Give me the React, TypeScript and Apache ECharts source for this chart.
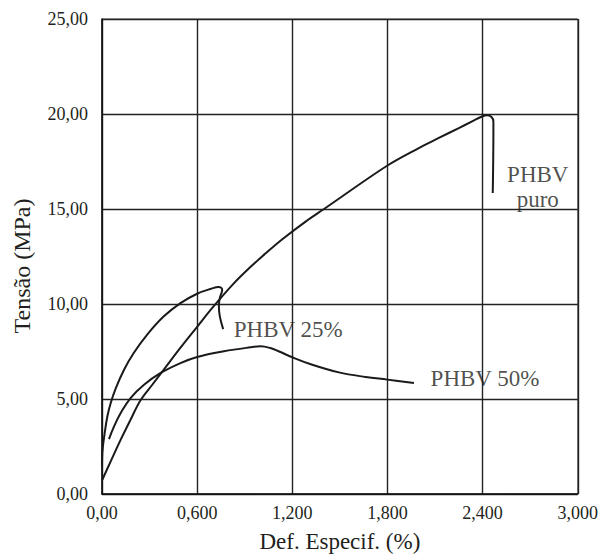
import React, { useEffect, useRef } from "react";
import * as echarts from "echarts";

const xTickLabels = ["0,00", "0,600", "1,200", "1,800", "2,400", "3,000"];
const yTickLabels = ["0,00", "5,00", "10,00", "15,00", "20,00", "25,00"];

const xTitle = "Def. Especif. (%)";
const yTitle = "Tensão (MPa)";

const phbvPuro: [number, number][] = [
  [0.002, 0.75], [0.055, 1.72], [0.118, 2.86], [0.18, 3.91], [0.243, 4.93],
  [0.317, 5.75], [0.39, 6.55], [0.495, 7.7], [0.6, 8.8], [0.698, 9.82],
  [0.824, 11.02], [0.929, 11.89], [1.034, 12.68], [1.139, 13.42], [1.286, 14.35],
  [1.4, 15.0], [1.8, 17.29], [1.998, 18.21],
  [2.124, 18.74], [2.25, 19.26], [2.334, 19.61], [2.397, 19.87], [2.428, 19.93],
  [2.456, 19.84], [2.468, 19.61], [2.468, 19.0], [2.464, 15.84],
];

const phbv25: [number, number][] = [
  [0.0, 1.46], [0.002, 2.16], [0.017, 3.21], [0.034, 4.09], [0.055, 4.79],
  [0.086, 5.55], [0.139, 6.54], [0.2, 7.42], [0.285, 8.39], [0.39, 9.35],
  [0.495, 10.05], [0.6, 10.54], [0.684, 10.79], [0.737, 10.89], [0.758, 10.75],
  [0.743, 10.32], [0.737, 9.88], [0.743, 9.35], [0.764, 8.68],
];

const phbv50: [number, number][] = [
  [0.044, 2.89], [0.076, 3.56], [0.118, 4.26], [0.18, 5.05], [0.265, 5.75],
  [0.37, 6.37], [0.495, 6.89], [0.6, 7.21], [0.768, 7.51], [0.936, 7.72],
  [1.0, 7.77], [1.062, 7.68], [1.117, 7.5], [1.196, 7.21], [1.326, 6.8],
  [1.494, 6.4], [1.662, 6.16], [1.8, 6.02], [1.967, 5.84],
];

const curveLabelTexts = ["PHBV 25%", "PHBV 50%", "PHBV", "puro"];
const curveLabelPos: [number, number][] = [
  [0.831, 8.67],
  [2.072, 6.07],
  [2.748, 16.8],
  [2.748, 15.49],
];
const curveLabelAlign = ["left", "left", "center", "center"];

const FONT = "'Liberation Serif', 'DejaVu Serif', serif";
const TEXT = "#231f20";

export default function App() {
  const ref = useRef<HTMLDivElement>(null);
  useEffect(() => {
    if (!ref.current) return;
    const chart = echarts.init(ref.current, undefined, { renderer: "svg" });
    const lineStyle = { color: "#1a1a1a", width: 2 };
    chart.setOption({
      animation: false,
      backgroundColor: "#ffffff",
      grid: {
        left: 102,
        right: 22,
        top: 19,
        bottom: 63,
        show: true,
        borderColor: "#555",
        borderWidth: 1,
      },
      xAxis: {
        type: "value",
        min: 0,
        max: 3,
        interval: 0.6,
        name: xTitle,
        nameLocation: "middle",
        nameGap: 36,
        nameTextStyle: { fontFamily: FONT, fontSize: 23, color: TEXT },
        axisLine: { show: true, lineStyle: { color: "#111", width: 1.5 } },
        axisTick: { show: false },
        splitLine: { show: true, lineStyle: { color: "#222", width: 1.4 } },
        axisLabel: {
          fontFamily: FONT,
          fontSize: 18,
          color: TEXT,
          margin: 10,
          formatter: (_v: number, i: number) => xTickLabels[i],
        },
      },
      yAxis: {
        type: "value",
        min: 0,
        max: 25,
        interval: 5,
        axisLine: { show: true, lineStyle: { color: "#111", width: 1.5 } },
        axisTick: { show: false },
        splitLine: { show: true, lineStyle: { color: "#222", width: 1.4 } },
        axisLabel: {
          fontFamily: FONT,
          fontSize: 18,
          color: TEXT,
          margin: 14,
          formatter: (_v: number, i: number) => yTickLabels[i],
        },
      },
      graphic: [
        {
          type: "text",
          x: 22,
          y: 266,
          rotation: Math.PI / 2,
          style: {
            text: yTitle,
            fontFamily: FONT,
            fontSize: 24,
            fill: TEXT,
            align: "center",
            verticalAlign: "middle",
          },
        },
      ],
      series: [
        {
          name: "PHBV puro",
          type: "line",
          data: phbvPuro,
          showSymbol: false,
          smooth: 0.35,
          lineStyle,
        },
        {
          name: "PHBV 25%",
          type: "line",
          data: phbv25,
          showSymbol: false,
          smooth: 0.4,
          lineStyle,
        },
        {
          name: "PHBV 50%",
          type: "line",
          data: phbv50,
          showSymbol: false,
          smooth: 0.4,
          lineStyle,
        },
        {
          name: "labels",
          type: "scatter",
          symbolSize: 0,
          silent: true,
          data: curveLabelTexts.map((t, i) => ({
            name: t,
            value: curveLabelPos[i],
            label: {
              show: true,
              position: "inside",
              formatter: t,
              fontFamily: FONT,
              fontSize: 23,
              color: TEXT,
              align: curveLabelAlign[i],
              verticalAlign: "middle",
            },
          })),
        },
      ],
    });
    return () => chart.dispose();
  }, []);
  return (
    <div
      ref={ref}
      style={{ position: "fixed", left: 0, top: 0, width: 601, height: 558, background: "#fff" }}
    />
  );
}
